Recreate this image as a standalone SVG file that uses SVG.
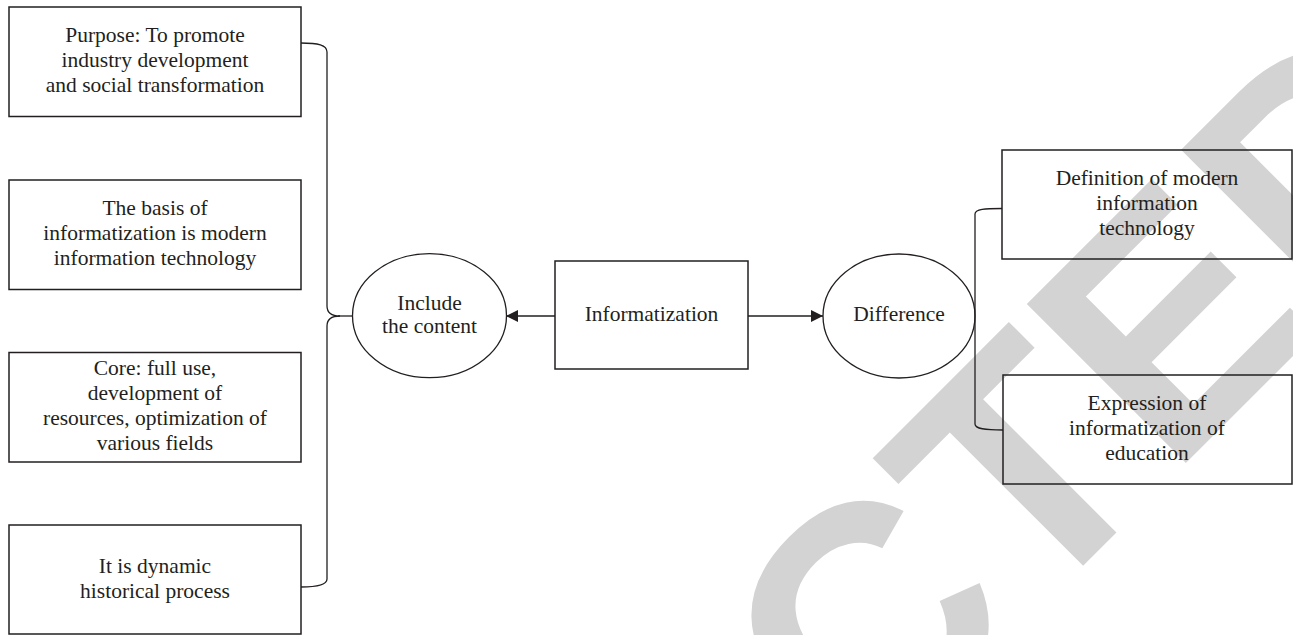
<svg xmlns="http://www.w3.org/2000/svg" width="1293" height="635" viewBox="0 0 1293 635">
  <style>
    .box { fill: none; stroke: #231f20; stroke-width: 1.5; }
    .ell { fill: none; stroke: #231f20; stroke-width: 1.3; }
    .con { fill: none; stroke: #231f20; stroke-width: 1.3; }
    .lbl { font-family: "Liberation Serif", "Times New Roman", serif; font-size: 21.5px; fill: #231f20; text-anchor: middle; }
    .wm { font-family: "Liberation Sans", Arial, sans-serif; font-weight: bold; font-size: 327px; fill: #d3d3d3; }
  </style>
  <defs>
    <marker id="arr" viewBox="0 0 12 12" refX="12" refY="6" markerWidth="12" markerHeight="12" markerUnits="userSpaceOnUse" orient="auto">
      <path d="M0,0 L12,6 L0,12 Z" fill="#231f20"/>
    </marker>
  </defs>
  <rect width="1293" height="635" fill="#ffffff"/>
  <g id="watermark">
    <text class="wm" transform="translate(862.2,786.8) rotate(-45)">CTED</text>
  </g>
  <g id="connectors">
    <path class="con" d="M301,43 C318,43 327,45 327,52 V306 C327,313 331,316 340,316 C331,316 327,319 327,326 V579 C327,585 318,587 301,587"/>
    <path class="con" d="M338,316 H353"/>
    <path class="con" d="M1002,208.5 C985,208.5 975,209 975,214 V424 C975,429 985,430 1003,430"/>
    <path class="con" d="M555,316 H506" marker-end="url(#arr)"/>
    <path class="con" d="M748,316 H823" marker-end="url(#arr)"/>
  </g>
  <g id="node-purpose">
    <rect class="box" x="9" y="7" width="292" height="109.5"/>
    <text class="lbl"><tspan x="155" y="42">Purpose: To promote</tspan><tspan x="155" y="67">industry development</tspan><tspan x="155" y="92">and social transformation</tspan></text>
  </g>
  <g id="node-basis">
    <rect class="box" x="9" y="180" width="292" height="109.5"/>
    <text class="lbl"><tspan x="155" y="215">The basis of</tspan><tspan x="155" y="240">informatization is modern</tspan><tspan x="155" y="265">information technology</tspan></text>
  </g>
  <g id="node-core">
    <rect class="box" x="9" y="352.5" width="292" height="109.5"/>
    <text class="lbl"><tspan x="155" y="374.5">Core: full use,</tspan><tspan x="155" y="399.5">development of</tspan><tspan x="155" y="424.5">resources, optimization of</tspan><tspan x="155" y="449.5">various fields</tspan></text>
  </g>
  <g id="node-dynamic">
    <rect class="box" x="9" y="525" width="292" height="109"/>
    <text class="lbl"><tspan x="155" y="573">It is dynamic</tspan><tspan x="155" y="598">historical process</tspan></text>
  </g>
  <g id="node-include">
    <ellipse class="ell" cx="429.5" cy="315.7" rx="77" ry="62"/>
    <text class="lbl"><tspan x="429.5" y="309.5">Include</tspan><tspan x="429.5" y="333">the content</tspan></text>
  </g>
  <g id="node-informatization">
    <rect class="box" x="555" y="261" width="193" height="108"/>
    <text class="lbl" x="651.5" y="321">Informatization</text>
  </g>
  <g id="node-difference">
    <ellipse class="ell" cx="899" cy="316" rx="76" ry="62"/>
    <text class="lbl" x="899" y="321">Difference</text>
  </g>
  <g id="node-definition">
    <rect class="box" x="1002" y="150" width="290" height="109"/>
    <text class="lbl"><tspan x="1147" y="185">Definition of modern</tspan><tspan x="1147" y="210">information</tspan><tspan x="1147" y="235">technology</tspan></text>
  </g>
  <g id="node-expression">
    <rect class="box" x="1003" y="375" width="289" height="109"/>
    <text class="lbl"><tspan x="1147" y="410">Expression of</tspan><tspan x="1147" y="435">informatization of</tspan><tspan x="1147" y="460">education</tspan></text>
  </g>
</svg>
